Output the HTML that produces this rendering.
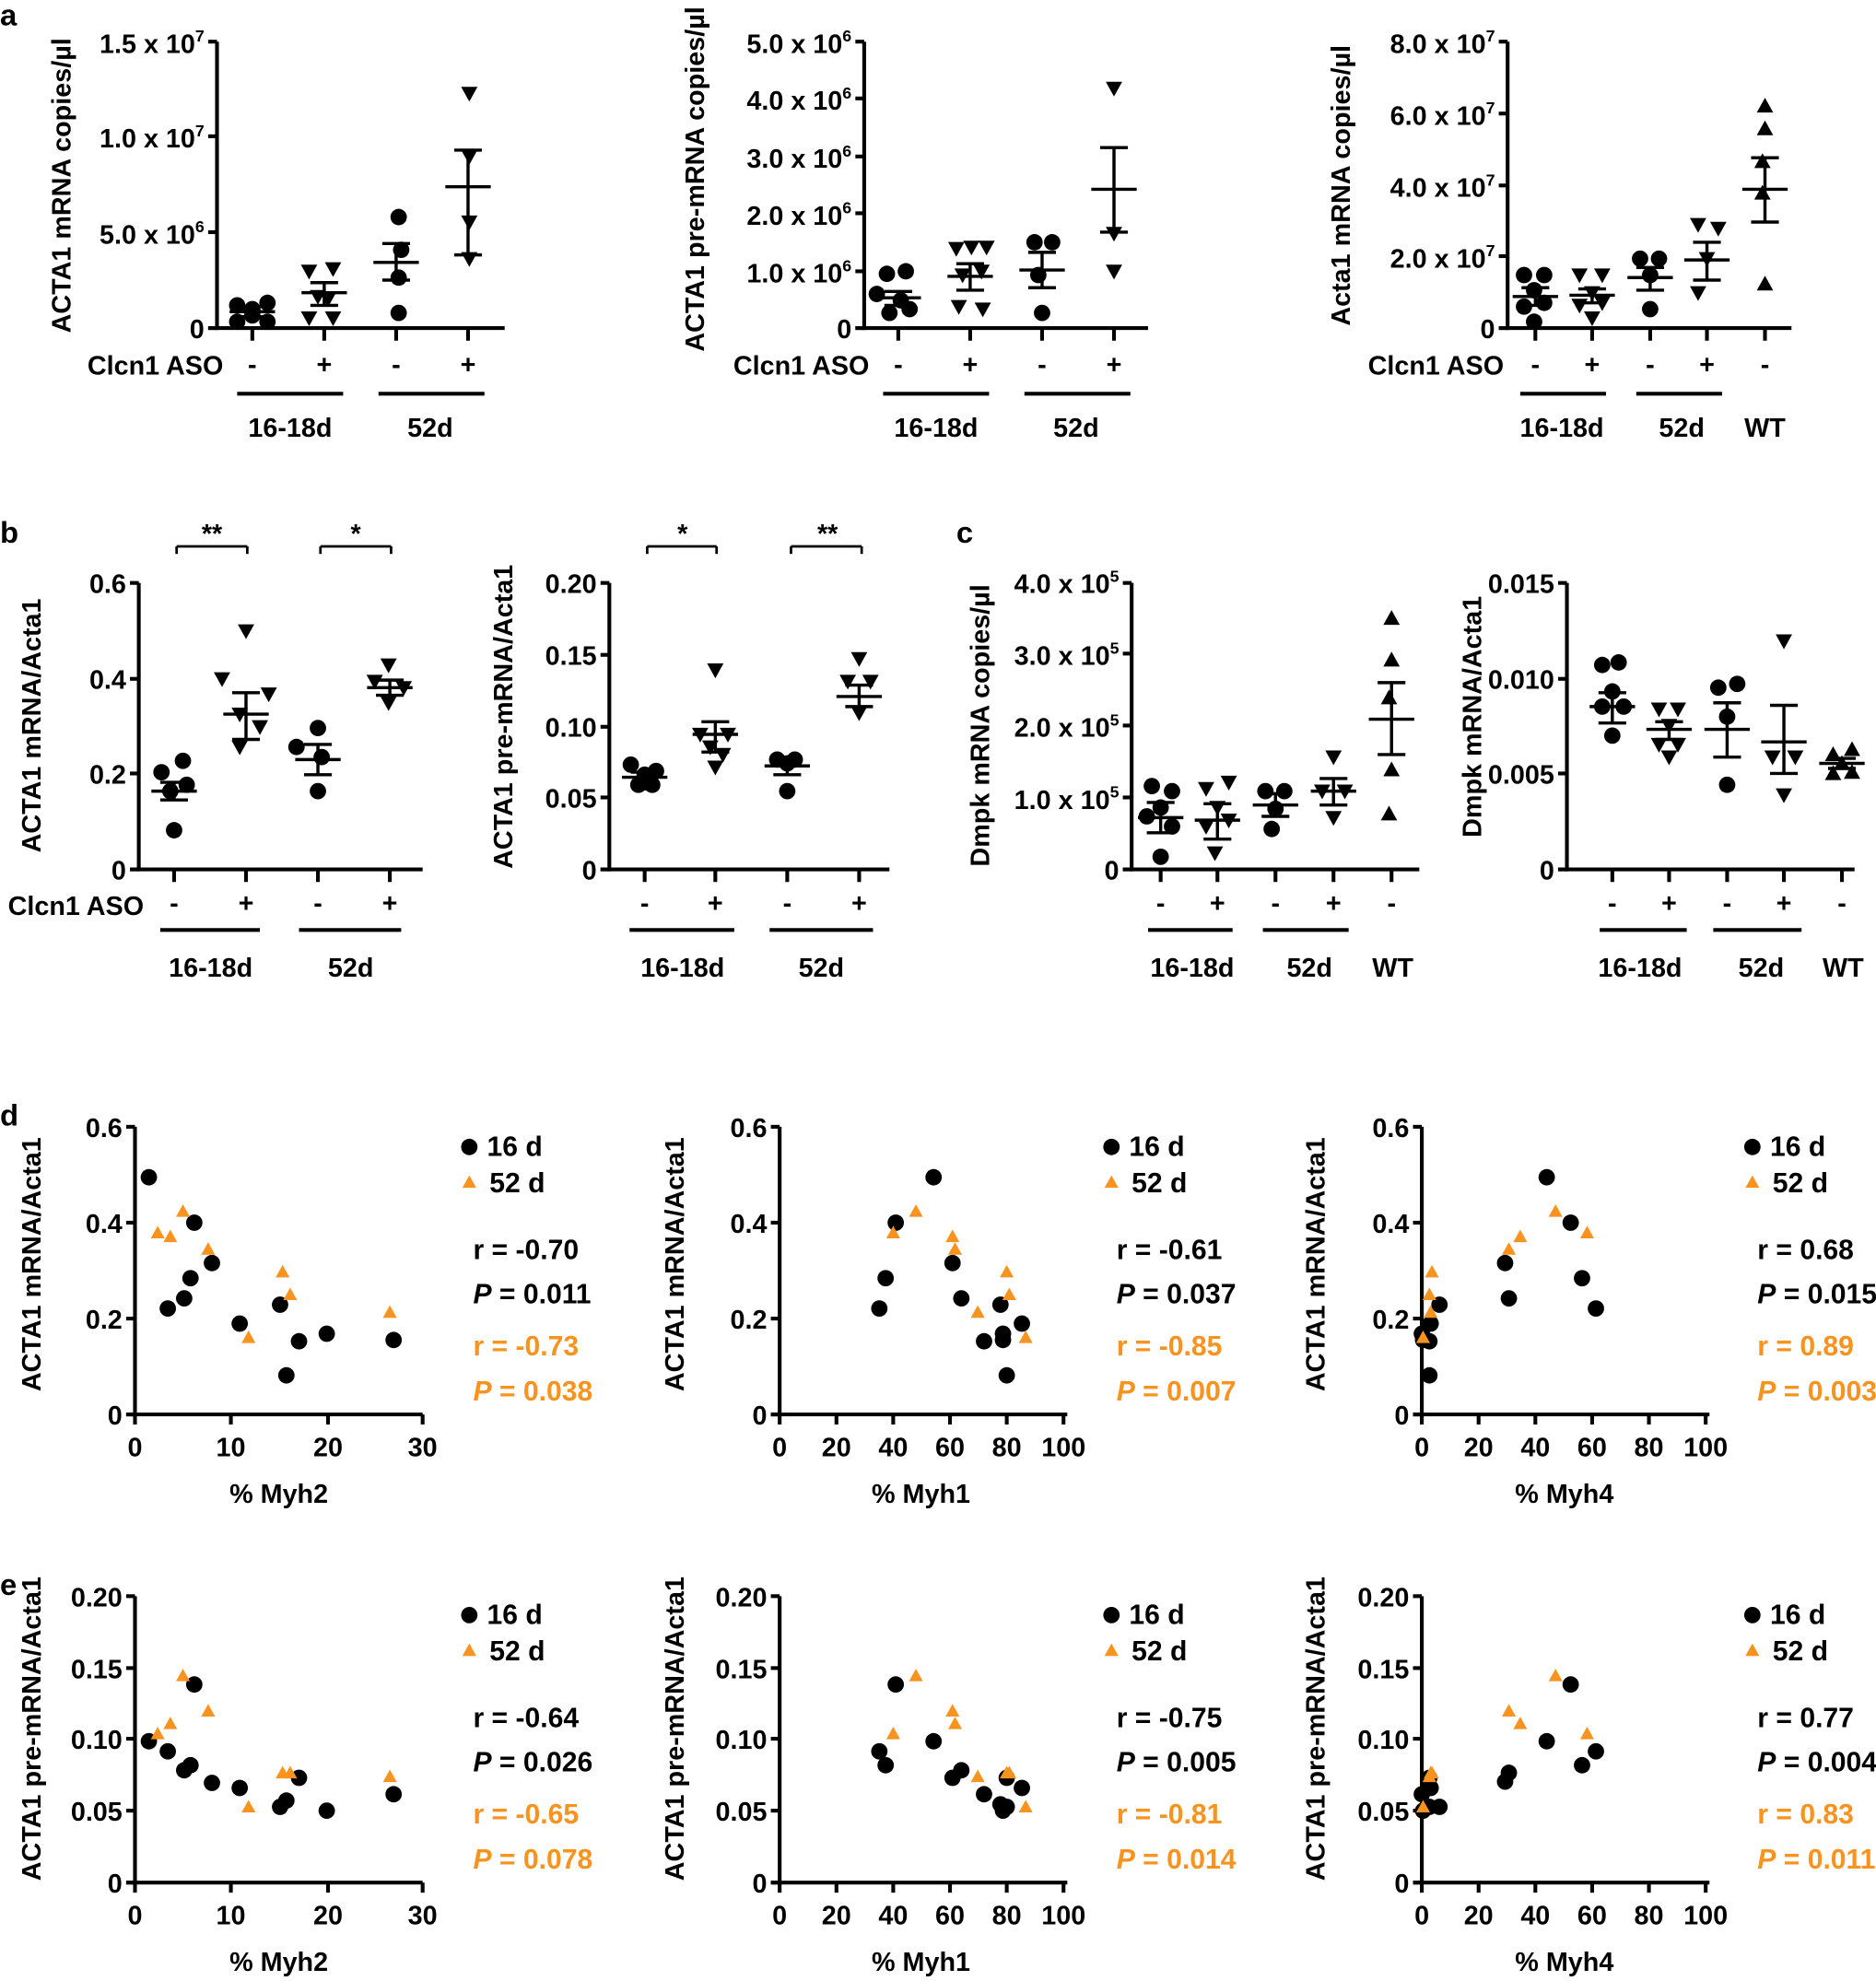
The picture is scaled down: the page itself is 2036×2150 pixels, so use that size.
<!DOCTYPE html>
<html><head><meta charset="utf-8"><style>
html,body{margin:0;padding:0;background:#fff}
svg{display:block}
text{font-family:"Liberation Sans",sans-serif;font-weight:bold;fill:#000}
.t{font-family:"Liberation Sans Narrow","Liberation Sans",sans-serif;font-size:21px;font-stretch:condensed}
.s{font-size:22px}
.ti{font-size:21px}
.pl{font-size:24px}
.o{fill:#F7931E}
</style></head><body>
<svg id="s" width="2036" height="2150" viewBox="0 0 1487 1570" preserveAspectRatio="none" xmlns="http://www.w3.org/2000/svg">
<g id="g" stroke="#000" stroke-width="3" fill="none"></g>
<g id="m"></g>
<text class="pl" x="0" y="20">a</text>
<text class="pl" x="0" y="430">b</text>
<text class="pl" x="758" y="430">c</text>
<text class="pl" x="0" y="892">d</text>
<text class="pl" x="0" y="1264">e</text>

<!-- a1 -->
<g class="t" text-anchor="end">
<text x="162" y="42">1.5 x 10<tspan dy="-9" font-size="13">7</tspan></text>
<text x="162" y="117">1.0 x 10<tspan dy="-9" font-size="13">7</tspan></text>
<text x="162" y="193">5.0 x 10<tspan dy="-9" font-size="13">6</tspan></text>
<text x="162" y="268">0</text>
<text x="177" y="297">Clcn1 ASO</text>
</g>
<g class="t" text-anchor="middle">
<text x="200" y="296">-</text><text x="257" y="296">+</text><text x="314" y="296">-</text><text x="371" y="296">+</text>
<text x="230" y="346">16-18d</text><text x="341" y="346">52d</text>
</g>
<text class="ti" text-anchor="middle" transform="translate(56,147) rotate(-90)">ACTA1 mRNA copies/µl</text>

<!-- a2 -->
<g class="t" text-anchor="end">
<text x="675" y="42">5.0 x 10<tspan dy="-9" font-size="13">6</tspan></text>
<text x="675" y="87">4.0 x 10<tspan dy="-9" font-size="13">6</tspan></text>
<text x="675" y="133">3.0 x 10<tspan dy="-9" font-size="13">6</tspan></text>
<text x="675" y="178">2.0 x 10<tspan dy="-9" font-size="13">6</tspan></text>
<text x="675" y="224">1.0 x 10<tspan dy="-9" font-size="13">6</tspan></text>
<text x="675" y="268">0</text>
<text x="689" y="297">Clcn1 ASO</text>
</g>
<g class="t" text-anchor="middle">
<text x="712" y="296">-</text><text x="769" y="296">+</text><text x="826" y="296">-</text><text x="883" y="296">+</text>
<text x="742" y="346">16-18d</text><text x="853" y="346">52d</text>
</g>
<text class="ti" text-anchor="middle" transform="translate(558,142) rotate(-90)">ACTA1 pre-mRNA copies/µl</text>

<!-- a3 -->
<g class="t" text-anchor="end">
<text x="1185" y="42">8.0 x 10<tspan dy="-9" font-size="13">7</tspan></text>
<text x="1185" y="99">6.0 x 10<tspan dy="-9" font-size="13">7</tspan></text>
<text x="1185" y="156">4.0 x 10<tspan dy="-9" font-size="13">7</tspan></text>
<text x="1185" y="212">2.0 x 10<tspan dy="-9" font-size="13">7</tspan></text>
<text x="1185" y="268">0</text>
<text x="1192" y="297">Clcn1 ASO</text>
</g>
<g class="t" text-anchor="middle">
<text x="1217" y="296">-</text><text x="1262" y="296">+</text><text x="1308" y="296">-</text><text x="1353" y="296">+</text><text x="1399" y="296">-</text>
<text x="1238" y="346">16-18d</text><text x="1333" y="346">52d</text><text x="1399" y="346">WT</text>
</g>
<text class="ti" text-anchor="middle" transform="translate(1070,147) rotate(-90)">Acta1 mRNA copies/µl</text>

<!-- b1 -->
<g class="t" text-anchor="end">
<text x="100" y="470">0.6</text><text x="100" y="546">0.4</text><text x="100" y="621">0.2</text><text x="100" y="697">0</text>
<text x="114" y="725">Clcn1 ASO</text>
</g>
<g class="t" text-anchor="middle">
<text x="138" y="723">-</text><text x="195" y="723">+</text><text x="252" y="723">-</text><text x="309" y="723">+</text>
<text x="167" y="774">16-18d</text><text x="278" y="774">52d</text>
<text x="168" y="430">**</text><text x="282" y="430">*</text>
</g>
<text class="ti" text-anchor="middle" transform="translate(32,575) rotate(-90)">ACTA1 mRNA/Acta1</text>

<!-- b2 -->
<g class="t" text-anchor="end">
<text x="473" y="470">0.20</text><text x="473" y="527">0.15</text><text x="473" y="584">0.10</text><text x="473" y="640">0.05</text><text x="473" y="697">0</text>
</g>
<g class="t" text-anchor="middle">
<text x="511" y="723">-</text><text x="567" y="723">+</text><text x="624" y="723">-</text><text x="681" y="723">+</text>
<text x="541" y="774">16-18d</text><text x="651" y="774">52d</text>
<text x="541" y="430">*</text><text x="656" y="430">**</text>
</g>
<text class="ti" text-anchor="middle" transform="translate(406,568) rotate(-90)">ACTA1 pre-mRNA/Acta1</text>

<!-- c1 -->
<g class="t" text-anchor="end">
<text x="887" y="470">4.0 x 10<tspan dy="-9" font-size="13">5</tspan></text>
<text x="887" y="527">3.0 x 10<tspan dy="-9" font-size="13">5</tspan></text>
<text x="887" y="584">2.0 x 10<tspan dy="-9" font-size="13">5</tspan></text>
<text x="887" y="641">1.0 x 10<tspan dy="-9" font-size="13">5</tspan></text>
<text x="887" y="697">0</text>
</g>
<g class="t" text-anchor="middle">
<text x="920" y="723">-</text><text x="965" y="723">+</text><text x="1011" y="723">-</text><text x="1057" y="723">+</text><text x="1103" y="723">-</text>
<text x="945" y="774">16-18d</text><text x="1038" y="774">52d</text><text x="1104" y="774">WT</text>
</g>
<text class="ti" text-anchor="middle" transform="translate(784,575) rotate(-90)">Dmpk mRNA copies/µl</text>

<!-- c2 -->
<g class="t" text-anchor="end">
<text x="1232" y="470">0.015</text><text x="1232" y="546">0.010</text><text x="1232" y="621">0.005</text><text x="1232" y="697">0</text>
</g>
<g class="t" text-anchor="middle">
<text x="1278" y="723">-</text><text x="1323" y="723">+</text><text x="1369" y="723">-</text><text x="1414" y="723">+</text><text x="1460" y="723">-</text>
<text x="1300" y="774">16-18d</text><text x="1396" y="774">52d</text><text x="1461" y="774">WT</text>
</g>
<text class="ti" text-anchor="middle" transform="translate(1174,568) rotate(-90)">Dmpk mRNA/Acta1</text>

<!-- d -->
<g class="t" text-anchor="end">
<text x="97" y="901">0.6</text><text x="97" y="977">0.4</text><text x="97" y="1053">0.2</text><text x="97" y="1129">0</text>
<text x="608" y="901">0.6</text><text x="608" y="977">0.4</text><text x="608" y="1053">0.2</text><text x="608" y="1129">0</text>
<text x="1117" y="901">0.6</text><text x="1117" y="977">0.4</text><text x="1117" y="1053">0.2</text><text x="1117" y="1129">0</text>
</g>
<g class="t" text-anchor="middle">
<text x="107" y="1154">0</text><text x="183" y="1154">10</text><text x="260" y="1154">20</text><text x="335" y="1154">30</text>
<text x="618" y="1154">0</text><text x="663" y="1154">20</text><text x="708" y="1154">40</text><text x="753" y="1154">60</text><text x="798" y="1154">80</text><text x="843" y="1154">100</text>
<text x="1127" y="1154">0</text><text x="1172" y="1154">20</text><text x="1217" y="1154">40</text><text x="1262" y="1154">60</text><text x="1307" y="1154">80</text><text x="1352" y="1154">100</text>
<text x="221" y="1191">% Myh2</text><text x="730" y="1191">% Myh1</text><text x="1240" y="1191">% Myh4</text>
</g>
<text class="ti" text-anchor="middle" transform="translate(32,1002) rotate(-90)">ACTA1 mRNA/Acta1</text>
<text class="ti" text-anchor="middle" transform="translate(542,1002) rotate(-90)">ACTA1 mRNA/Acta1</text>
<text class="ti" text-anchor="middle" transform="translate(1050,1002) rotate(-90)">ACTA1 mRNA/Acta1</text>
<g class="t s">
<text x="386" y="916">16 d</text><text x="388" y="945">52 d</text>
<text x="375" y="998">r = -0.70</text><text x="375" y="1033"><tspan font-style="italic">P</tspan> = 0.011</text>
<text class="o" x="375" y="1074">r = -0.73</text><text class="o" x="375" y="1110"><tspan font-style="italic">P</tspan> = 0.038</text>
<text x="895" y="916">16 d</text><text x="897" y="945">52 d</text>
<text x="885" y="998">r = -0.61</text><text x="885" y="1033"><tspan font-style="italic">P</tspan> = 0.037</text>
<text class="o" x="885" y="1074">r = -0.85</text><text class="o" x="885" y="1110"><tspan font-style="italic">P</tspan> = 0.007</text>
<text x="1403" y="916">16 d</text><text x="1405" y="945">52 d</text>
<text x="1393" y="998">r = 0.68</text><text x="1393" y="1033"><tspan font-style="italic">P</tspan> = 0.015</text>
<text class="o" x="1393" y="1074">r = 0.89</text><text class="o" x="1393" y="1110"><tspan font-style="italic">P</tspan> = 0.003</text>
</g>

<!-- e -->
<g class="t" text-anchor="end">
<text x="97" y="1273">0.20</text><text x="97" y="1330">0.15</text><text x="97" y="1386">0.10</text><text x="97" y="1443">0.05</text><text x="97" y="1500">0</text>
<text x="608" y="1273">0.20</text><text x="608" y="1330">0.15</text><text x="608" y="1386">0.10</text><text x="608" y="1443">0.05</text><text x="608" y="1500">0</text>
<text x="1117" y="1273">0.20</text><text x="1117" y="1330">0.15</text><text x="1117" y="1386">0.10</text><text x="1117" y="1443">0.05</text><text x="1117" y="1500">0</text>
</g>
<g class="t" text-anchor="middle">
<text x="107" y="1525">0</text><text x="183" y="1525">10</text><text x="260" y="1525">20</text><text x="335" y="1525">30</text>
<text x="618" y="1525">0</text><text x="663" y="1525">20</text><text x="708" y="1525">40</text><text x="753" y="1525">60</text><text x="798" y="1525">80</text><text x="843" y="1525">100</text>
<text x="1127" y="1525">0</text><text x="1172" y="1525">20</text><text x="1217" y="1525">40</text><text x="1262" y="1525">60</text><text x="1307" y="1525">80</text><text x="1352" y="1525">100</text>
<text x="221" y="1562">% Myh2</text><text x="730" y="1562">% Myh1</text><text x="1240" y="1562">% Myh4</text>
</g>
<text class="ti" text-anchor="middle" transform="translate(32,1370) rotate(-90)">ACTA1 pre-mRNA/Acta1</text>
<text class="ti" text-anchor="middle" transform="translate(542,1370) rotate(-90)">ACTA1 pre-mRNA/Acta1</text>
<text class="ti" text-anchor="middle" transform="translate(1050,1370) rotate(-90)">ACTA1 pre-mRNA/Acta1</text>
<g class="t s">
<text x="386" y="1287">16 d</text><text x="388" y="1316">52 d</text>
<text x="375" y="1369">r = -0.64</text><text x="375" y="1404"><tspan font-style="italic">P</tspan> = 0.026</text>
<text class="o" x="375" y="1445">r = -0.65</text><text class="o" x="375" y="1481"><tspan font-style="italic">P</tspan> = 0.078</text>
<text x="895" y="1287">16 d</text><text x="897" y="1316">52 d</text>
<text x="885" y="1369">r = -0.75</text><text x="885" y="1404"><tspan font-style="italic">P</tspan> = 0.005</text>
<text class="o" x="885" y="1445">r = -0.81</text><text class="o" x="885" y="1481"><tspan font-style="italic">P</tspan> = 0.014</text>
<text x="1403" y="1287">16 d</text><text x="1405" y="1316">52 d</text>
<text x="1393" y="1369">r = 0.77</text><text x="1393" y="1404"><tspan font-style="italic">P</tspan> = 0.004</text>
<text class="o" x="1393" y="1445">r = 0.83</text><text class="o" x="1393" y="1481"><tspan font-style="italic">P</tspan> = 0.011</text>
</g>
</svg>
<script>
var NS="http://www.w3.org/2000/svg",G=document.getElementById('g'),M=document.getElementById('m');
function L(x1,y1,x2,y2,w){var e=document.createElementNS(NS,'line');e.setAttribute('x1',x1);e.setAttribute('y1',y1);e.setAttribute('x2',x2);e.setAttribute('y2',y2);if(w)e.setAttribute('stroke-width',w);G.appendChild(e);}
function C(x,y,f){var e=document.createElementNS(NS,'circle');e.setAttribute('cx',x);e.setAttribute('cy',y);e.setAttribute('r',6.5);e.setAttribute('fill',f||'#000');M.appendChild(e);}
function T(x,y,up,f,s){s=s||6.5;var p=up?[x-s,y+s*0.8,x+s,y+s*0.8,x,y-s*1.0]:[x-s,y-s*0.8,x+s,y-s*0.8,x,y+s*1.0];var e=document.createElementNS(NS,'polygon');e.setAttribute('points',p.join(' '));e.setAttribute('fill',f||'#000');M.appendChild(e);}
function EB(x,m,lo,hi){L(x-18,m,x+18,m,2.5);L(x,lo,x,hi,2.5);L(x-11,lo,x+11,lo,2.5);L(x-11,hi,x+11,hi,2.5);}
function YA(x,yt,yb,ticks){L(x,yt,x,yb+1.5);ticks.forEach(function(t){L(x-7,t,x,t);});}
function XA(x1,x2,y,ticks,down){L(x1,y,x2,y);ticks.forEach(function(t){L(t,y,t,y+(down||10));});}
function lines(y,segs){segs.forEach(function(s){L(s[0],y,s[1],y,3);});}
YA(172,33,260,[33,108,184,260]);XA(165,400,260,[200,257,314,371]);lines(312,[[188,272],[300,384]]);
YA(685,33,260,[33,78,124,169,215,260]);XA(678,910,260,[712,769,826,883]);lines(312,[[700,784],[812,896]]);
YA(1195,33,260,[33,90,147,203,260]);XA(1188,1420,260,[1217,1262,1308,1353,1399]);lines(312,[[1205,1273],[1297,1365]]);
YA(110,462,689,[462,538,613,689]);XA(103,335,689,[138,195,252,309]);lines(737,[[127,206],[237,318]]);
L(140,433,196,433,2);L(140,433,140,439,2);L(196,433,196,439,2);L(254,433,310,433,2);L(254,433,254,439,2);L(310,433,310,439,2);
YA(483,462,689,[462,519,576,632,689]);XA(476,705,689,[511,567,624,681]);lines(737,[[499,582],[610,692]]);
L(513,433,568,433,2);L(513,433,513,439,2);L(568,433,568,439,2);L(627,433,683,433,2);L(627,433,627,439,2);L(683,433,683,439,2);
YA(897,462,689,[462,518,575,632,689]);XA(890,1125,689,[920,965,1011,1057,1103]);lines(737,[[910,977],[1001,1069]]);
YA(1242,462,689,[462,538,613,689]);XA(1235,1470,689,[1278,1323,1369,1414,1460]);lines(737,[[1268,1337],[1358,1428]]);
[107,618,1127].forEach(function(x,i){
 var xt=i==0?[107,183,260,335]:[x,x+45,x+90,x+135,x+180,x+225];
 YA(x,893,1121,[893,969,1045,1121]);XA(x-7,x+228,1121,xt,8);
 YA(x,1265,1492,[1265,1322,1378,1435,1492]);XA(x-7,x+228,1492,xt,8);
});
[[188,242],[200,245],[212,240],[188,255],[212,255],[200,250]].forEach(function(p){C(p[0],p[1]);});EB(200,247,243,251);
[[245,215],[264,213],[252,235],[260,237],[245,252],[264,252]].forEach(function(p){T(p[0],p[1],0);});EB(257,232,224,242);
[[316,172],[318,198],[316,220],[316,248]].forEach(function(p){C(p[0],p[1]);});EB(314,208,193,222);
[[372,74],[372,124],[372,176],[372,205]].forEach(function(p){T(p[0],p[1],0);});EB(371,148,119,202);
[[703,217],[718,215],[695,233],[714,238],[705,248],[721,245]].forEach(function(p){C(p[0],p[1]);});EB(712,236,231,242);
[[758,197],[770,196],[782,196],[763,218],[778,215],[760,243],[779,245]].forEach(function(p){T(p[0],p[1],0);});EB(769,219,209,230);
[[820,192],[834,192],[823,218],[826,248]].forEach(function(p){C(p[0],p[1]);});EB(826,214,200,228);
[[883,70],[883,185],[883,215]].forEach(function(p){T(p[0],p[1],0);});EB(883,150,117,184);
[[1208,218],[1224,218],[1216,230],[1208,243],[1224,240],[1216,255]].forEach(function(p){C(p[0],p[1]);});EB(1217,235,228,242);
[[1252,218],[1270,218],[1262,232],[1252,242],[1270,240],[1262,252]].forEach(function(p){T(p[0],p[1],0);});EB(1262,234,229,240);
[[1300,205],[1315,205],[1308,218],[1308,245]].forEach(function(p){C(p[0],p[1]);});EB(1308,220,212,230);
[[1346,178],[1362,181],[1353,205],[1346,232]].forEach(function(p){T(p[0],p[1],0);});EB(1353,206,192,222);
[[1399,84],[1399,102],[1397,128],[1397,153],[1399,225]].forEach(function(p){T(p[0],p[1],1);});EB(1399,150,125,176);
[[145,603],[128,612],[148,622],[135,627],[138,658]].forEach(function(p){C(p[0],p[1]);});EB(138,627,620,634);
[[195,500],[176,538],[213,550],[190,566],[206,576],[190,592]].forEach(function(p){T(p[0],p[1],0);});EB(195,566,549,586);
[[252,577],[235,592],[255,600],[252,627]].forEach(function(p){C(p[0],p[1]);});EB(252,602,590,614);
[[308,527],[297,540],[320,545],[308,557]].forEach(function(p){T(p[0],p[1],0);});EB(309,545,539,551);
[[500,606],[511,614],[520,611],[506,622],[517,622],[511,620]].forEach(function(p){C(p[0],p[1]);});EB(511,616,612,621);
[[567,531],[555,582],[577,582],[563,592],[573,598],[567,608]].forEach(function(p){T(p[0],p[1],0);});EB(567,582,572,596);
[[616,602],[630,602],[624,605],[624,627]].forEach(function(p){C(p[0],p[1]);});EB(624,607,601,614);
[[681,522],[672,540],[690,540],[681,565]].forEach(function(p){T(p[0],p[1],0);});EB(681,552,543,560);
[[913,623],[929,627],[920,640],[909,647],[929,655],[920,679]].forEach(function(p){C(p[0],p[1]);});EB(920,648,636,660);
[[956,625],[974,620],[965,640],[956,655],[974,650],[963,676]].forEach(function(p){T(p[0],p[1],0);});EB(965,650,637,665);
[[1003,627],[1018,627],[1011,641],[1008,657]].forEach(function(p){C(p[0],p[1]);});EB(1011,638,629,647);
[[1057,600],[1048,627],[1066,627],[1057,648]].forEach(function(p){T(p[0],p[1],0);});EB(1057,627,617,638);
[[1103,490],[1103,523],[1101,553],[1103,610],[1101,645]].forEach(function(p){T(p[0],p[1],1);});EB(1103,570,541,598);
[[1270,527],[1283,525],[1278,548],[1270,560],[1287,560],[1278,583]].forEach(function(p){C(p[0],p[1]);});EB(1278,560,549,573);
[[1315,562],[1330,562],[1323,575],[1315,590],[1330,590],[1323,600]].forEach(function(p){T(p[0],p[1],0);});EB(1323,578,572,586);
[[1362,545],[1377,542],[1369,568],[1369,622]].forEach(function(p){C(p[0],p[1]);});EB(1369,578,557,600);
[[1414,508],[1405,600],[1423,600],[1414,630]].forEach(function(p){T(p[0],p[1],0);});EB(1414,588,559,613);
[[1453,598],[1468,594],[1460,605],[1453,613],[1468,612]].forEach(function(p){T(p[0],p[1],1);});EB(1460,605,601,609);
var OR='#F7931E';
function S(bl,or){bl.forEach(function(p){C(p[0],p[1]);});or.forEach(function(p){T(p[0],p[1],1,OR,5.5);});}
S([[118,933],[154,969],[168,1001],[151,1013],[133,1037],[146,1029],[190,1049],[222,1034],[237,1063],[259,1057],[227,1090],[312,1062]],
  [[125,977],[135,980],[145,960],[165,990],[197,1060],[224,1008],[230,1026],[309,1040]]);
S([[740,933],[710,969],[755,1001],[702,1013],[697,1037],[762,1029],[793,1034],[780,1063],[795,1057],[810,1049],[798,1090],[795,1062]],
  [[708,977],[726,960],[755,980],[757,990],[775,1040],[798,1008],[800,1026],[813,1060]]);
S([[1226,933],[1245,969],[1193,1001],[1254,1013],[1265,1037],[1196,1029],[1141,1034],[1133,1063],[1127,1057],[1134,1049],[1133,1090],[1128,1062]],
  [[1233,960],[1205,980],[1196,990],[1258,977],[1135,1008],[1133,1026],[1128,1060],[1134,1040]]);
S([[118,1380],[133,1388],[146,1403],[151,1399],[154,1335],[168,1413],[190,1417],[222,1432],[227,1427],[237,1409],[259,1435],[312,1422]],
  [[125,1374],[135,1366],[145,1328],[165,1356],[197,1432],[224,1405],[230,1405],[309,1408]]);
S([[697,1388],[702,1399],[710,1335],[740,1380],[755,1409],[762,1403],[780,1422],[793,1430],[795,1435],[798,1409],[810,1417],[798,1432]],
  [[708,1374],[726,1328],[755,1356],[757,1366],[775,1408],[798,1405],[800,1405],[813,1432]]);
S([[1127,1422],[1133,1432],[1134,1417],[1133,1409],[1141,1432],[1193,1412],[1196,1405],[1226,1380],[1245,1335],[1254,1399],[1265,1388],[1128,1435]],
  [[1128,1432],[1133,1408],[1135,1405],[1134,1405],[1196,1356],[1205,1366],[1233,1328],[1258,1374]]);
[[372,909,937],[881,909,937],[1389,909,937],[372,1280,1308],[881,1280,1308],[1389,1280,1308]].forEach(function(l){C(l[0],l[1]);T(l[0],l[2],1,OR,5.5);});
</script>
</body></html>
